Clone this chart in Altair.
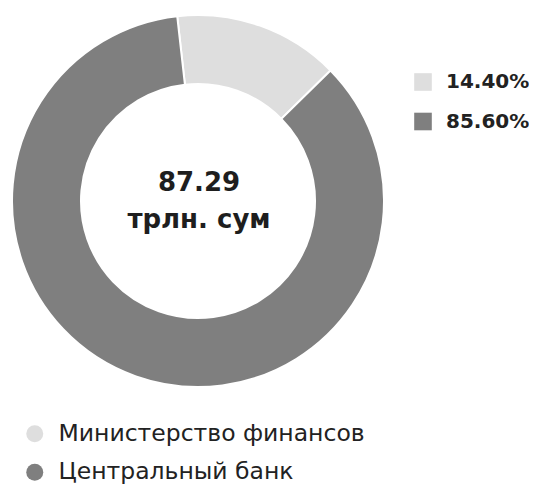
import altair as alt
import pandas as pd

# ---- data ----
NAMES = ["Министерство финансов", "Центральный банк"]
SHARES = [14.40, 85.60]
PCT_LABELS = ["14.40%", "85.60%"]
COLORS = ["#dedede", "#7f7f7f"]
ORDER = [0, 1]
CENTER_LINES = ["87.29", "трлн. сум"]

df = pd.DataFrame({"name": NAMES, "share": SHARES, "pct": PCT_LABELS, "ord": ORDER})
center_df = pd.DataFrame({"t": [CENTER_LINES]})

FONT = "DejaVu Sans"
START = -0.112
TWO_PI = 6.283185307

theta = alt.Theta("share:Q", stack=True, scale=alt.Scale(range=[START, START + TWO_PI]))
order = alt.Order("ord:Q")
CX, CY = 190, 193

pct_layer = alt.Chart(df).mark_arc(
    innerRadius=117, outerRadius=186, stroke="white", strokeWidth=2
).encode(
    theta=theta,
    order=order,
    x=alt.value(CX), y=alt.value(CY),
    color=alt.Color(
        "pct:N",
        scale=alt.Scale(domain=PCT_LABELS, range=COLORS),
        legend=alt.Legend(
            title=None, orient="none", legendX=405, legendY=64,
            symbolType="square", symbolSize=310, symbolStrokeWidth=0, symbolOpacity=1,
            labelFont=FONT, labelFontSize=20, labelFontWeight="bold", labelColor="#222222",
            labelOffset=13, rowPadding=19.5, padding=0, labelLimit=0,
        ),
    ),
)

name_layer = alt.Chart(df).mark_arc(
    innerRadius=117, outerRadius=186, stroke="white", strokeWidth=2
).encode(
    theta=theta,
    order=order,
    x=alt.value(CX), y=alt.value(CY),
    color=alt.Color(
        "name:N",
        scale=alt.Scale(domain=NAMES, range=COLORS),
        legend=alt.Legend(
            title=None, orient="none", legendX=15, legendY=414,
            symbolType="circle", symbolSize=289, symbolStrokeWidth=0, symbolOpacity=1,
            labelFont=FONT, labelFontSize=23.5, labelColor="#222222",
            labelOffset=12, rowPadding=13.5, padding=0, labelLimit=0,
        ),
    ),
)

center_text = alt.Chart(center_df).mark_text(
    font=FONT, fontSize=26, fontWeight="bold", color="#1e1e1e",
    align="center", baseline="alphabetic", lineHeight=37,
).encode(
    text=alt.Text("t"),
    x=alt.value(191), y=alt.value(183),
)

chart = alt.layer(pct_layer, name_layer, center_text).resolve_scale(
    color="independent"
).properties(
    width=521, height=476, padding=0,
    autosize=alt.AutoSizeParams(type="none"),
).configure_view(stroke=None)

chart.save("out.html", embed_options={"renderer": "svg", "actions": False})
